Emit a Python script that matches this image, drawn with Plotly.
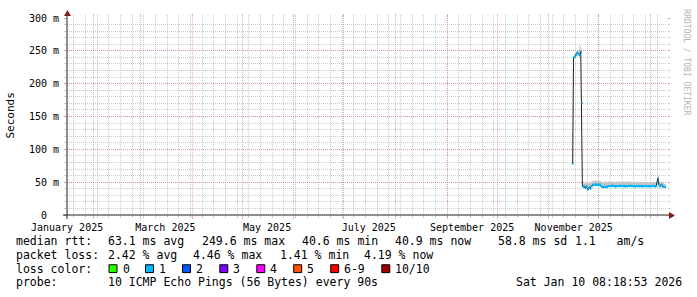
import plotly.graph_objects as go
import pandas as pd

# ---------------- data ----------------
times = [
    "2025-11-15 10:00", "2025-11-15 22:00", "2025-11-16 12:00", "2025-11-17 06:00",
    "2025-11-18 00:00", "2025-11-18 18:00", "2025-11-19 12:00", "2025-11-20 06:00",
    "2025-11-20 18:00", "2025-11-21 06:00", "2025-11-22 00:00", "2025-11-22 18:00",
    "2025-11-23 12:00", "2025-11-24 06:00", "2025-11-25 00:00", "2025-11-25 18:00",
    "2025-11-26 12:00", "2025-11-27 12:00", "2025-11-28 12:00", "2025-11-29 12:00",
    "2025-11-30 12:00", "2025-12-01 12:00", "2025-12-02 12:00", "2025-12-03 12:00",
    "2025-12-04 12:00", "2025-12-05 12:00", "2025-12-06 12:00", "2025-12-07 12:00",
    "2025-12-08 12:00", "2025-12-09 12:00", "2025-12-10 12:00", "2025-12-11 12:00",
    "2025-12-12 12:00", "2025-12-13 12:00", "2025-12-14 12:00", "2025-12-15 12:00",
    "2025-12-16 12:00", "2025-12-17 12:00", "2025-12-18 12:00", "2025-12-19 12:00",
    "2025-12-20 12:00", "2025-12-21 12:00", "2025-12-22 12:00", "2025-12-23 12:00",
    "2025-12-24 12:00", "2025-12-25 12:00", "2025-12-26 12:00", "2025-12-27 12:00",
    "2025-12-28 12:00", "2025-12-29 12:00", "2025-12-30 12:00", "2025-12-31 12:00",
    "2026-01-01 12:00", "2026-01-02 12:00", "2026-01-03 12:00", "2026-01-04 12:00",
    "2026-01-05 00:00", "2026-01-05 12:00", "2026-01-06 00:00", "2026-01-06 12:00",
    "2026-01-07 12:00", "2026-01-08 12:00", "2026-01-09 12:00", "2026-01-10 08:00",
]
median_ms = [
    78, 240, 241, 244,
    247, 245, 243, 249,
    171, 43, 44, 41,
    44, 39, 42, 40,
    44, 46, 46.5, 46,
    46.5, 46, 43, 42.5,
    43, 42.5, 44, 44,
    44.5, 44, 43.5, 44,
    44, 44.5, 44, 44,
    43.5, 44, 44, 44.5,
    44, 44, 43.5, 44,
    44, 44, 43.5, 44,
    44, 44, 43.5, 44,
    44, 44, 43.5, 44,
    50, 56, 47, 44,
    46, 43, 42.5, 42,
]
smoke_min_ms = [
    77, 238, 239, 241,
    243, 242, 240, 246,
    169, 42, 42, 40,
    42, 38, 40, 38,
    42, 44, 44, 44,
    44, 44, 42, 41,
    42, 41, 43, 43,
    43, 43, 42, 43,
    43, 43, 43, 43,
    42, 43, 43, 43,
    43, 43, 42, 43,
    43, 43, 42, 43,
    43, 43, 42, 43,
    43, 43, 42, 43,
    45, 48, 43, 42,
    43, 41, 41, 41,
]
smoke_max_ms = [
    80, 243, 246, 249,
    250, 251, 258, 253,
    173, 47, 49, 48,
    50, 48, 50, 49,
    51, 52, 52, 52,
    52.5, 52, 50, 50,
    51, 50, 51, 50.5,
    51, 50.5, 50, 51,
    50.5, 51, 50.5, 51,
    50, 50.5, 51, 50.5,
    50, 50.5, 50, 50.5,
    50, 50.5, 50, 50,
    50.5, 50, 50, 50.5,
    50, 50.5, 50, 51,
    55, 60, 52, 50,
    50, 48, 47, 46,
]

y_tick_vals = [0, 50, 100, 150, 200, 250, 300]
y_tick_text = ["0\u00a0\u00a0", "50 m", "100 m", "150 m", "200 m", "250 m", "300 m"]
x_label_months = ["2025-01-01", "2025-03-01", "2025-05-01", "2025-07-01", "2025-09-01", "2025-11-01"]
x_label_text = ["January 2025", "March 2025", "May 2025", "July 2025", "September 2025", "November 2025"]

legend_rtt = ["median rtt:", "63.1 ms avg", "249.6 ms max", "40.6 ms min", "40.9 ms now", "58.8 ms sd", "1.1   am/s"]
legend_loss = ["packet loss:", "2.42 % avg", "4.46 % max", "1.41 % min", "4.19 % now"]
loss_labels = ["0", "1", "2", "3", "4", "5", "6-9", "10/10"]
probe_text = ["probe:", "10 ICMP Echo Pings (56 Bytes) every 90s"]
stamp_text = "Sat Jan 10 08:18:53 2026"

# ---------------- styles / layout ----------------
loss_colors = ["#26ff00", "#00b8ff", "#0059ff", "#7e00ff", "#ff00ff", "#ff5500", "#ff0000", "#a10000"]
FONT = "DejaVu Sans Mono"
FS = 11.5
AFS = 10
L, T, W, H = 67, 15, 600, 200
FIG_W, FIG_H = 697, 297
x_start, x_end = "2025-01-16 00:00", "2026-01-11 00:00"


def px(x):
    return (x - L) / W


def py(y):
    return (T + H - y) / H


month_starts = pd.date_range("2025-02-01", "2026-01-01", freq="MS")
mondays = pd.date_range("2025-01-20", "2026-01-10", freq="7D")
label_pos = [pd.Timestamp(m) + pd.Timedelta(days=15, hours=1) for m in x_label_months]

t = pd.to_datetime(times)
band = 1.8
med_lo = [m - band for m in median_ms]
med_hi = [m + band for m in median_ms]

fig = go.Figure()
# smoke
fig.add_trace(go.Scatter(x=t, y=smoke_min_ms, mode="lines", line=dict(width=0, shape="hv"),
                         showlegend=False, hoverinfo="skip"))
fig.add_trace(go.Scatter(x=t, y=smoke_max_ms, mode="lines", line=dict(width=0, shape="hv"),
                         fill="tonexty", fillcolor="#c4c4c4", showlegend=False, hoverinfo="skip"))
# dark median line
fig.add_trace(go.Scatter(x=t, y=median_ms, mode="lines", line=dict(width=1, color="#202020"),
                         showlegend=False, hoverinfo="skip"))
# median coloured by loss (1/10 -> colour index 1)
fig.add_trace(go.Scatter(x=t, y=med_lo, mode="lines", line=dict(width=0, shape="hv"),
                         showlegend=False, hoverinfo="skip"))
fig.add_trace(go.Scatter(x=t, y=med_hi, mode="lines", line=dict(width=0, shape="hv"),
                         fill="tonexty", fillcolor=loss_colors[1], showlegend=False, hoverinfo="skip"))
# dummy trace for label axis
fig.add_trace(go.Scatter(x=label_pos, y=[None] * len(label_pos), xaxis="x2", mode="lines",
                         showlegend=False, hoverinfo="skip"))

grid_minor = "rgba(143,143,143,0.45)"
grid_major = "rgba(222,79,79,0.45)"

fig.update_layout(
    width=FIG_W, height=FIG_H,
    margin=dict(l=L, r=FIG_W - L - W, t=T, b=FIG_H - T - H, pad=0),
    paper_bgcolor="white", plot_bgcolor="white",
    font=dict(family=FONT, size=FS, color="black"),
    xaxis=dict(
        type="date", range=[x_start, x_end], tickmode="array", tickvals=month_starts,
        showticklabels=False, showgrid=True, gridcolor=grid_major, griddash="1px,1px", gridwidth=1,
        ticks="outside", ticklen=3, tickcolor=grid_major, mirror="ticks", showline=False, zeroline=False,
        minor=dict(tickmode="array", tickvals=mondays, showgrid=True, gridcolor=grid_minor,
                   griddash="1px,1px", ticks="outside", ticklen=2, tickcolor=grid_minor),
    ),
    xaxis2=dict(
        type="date", range=[x_start, x_end], overlaying="x", anchor="y", side="bottom",
        tickmode="array", tickvals=label_pos, ticktext=x_label_text, showgrid=False,
        ticks="", showline=False, zeroline=False, ticklabelstandoff=5,
        tickfont=dict(family=FONT, size=AFS, color="black"),
    ),
    yaxis=dict(
        range=[0, 300], tickmode="array", tickvals=y_tick_vals, ticktext=y_tick_text,
        showgrid=True, gridcolor=grid_major, griddash="1px,1px", gridwidth=1,
        ticks="outside", ticklen=2, tickcolor=grid_major, mirror="ticks", showline=False, zeroline=False,
        ticklabelstandoff=3, tickfont=dict(family=FONT, size=AFS, color="black"),
        minor=dict(dtick=10, tick0=0, showgrid=True, gridcolor=grid_minor, griddash="1px,1px",
                   ticks="outside", ticklen=2, tickcolor=grid_minor),
    ),
)

shapes = []
# axes lines
shapes.append(dict(type="line", xref="paper", yref="paper", x0=px(63), x1=px(671), y0=py(215), y1=py(215),
                   line=dict(color="#1f1f1f", width=1)))
shapes.append(dict(type="line", xref="paper", yref="paper", x0=px(67), x1=px(67), y0=py(219), y1=py(11),
                   line=dict(color="#1f1f1f", width=1)))
# arrows
arrow_col = "#801f1f"
shapes.append(dict(type="path", xref="paper", yref="paper",
                   path=f"M {px(669)},{py(212)} L {px(669)},{py(219)} L {px(675)},{py(215.5)} Z",
                   fillcolor=arrow_col, line=dict(color=arrow_col, width=0)))
shapes.append(dict(type="path", xref="paper", yref="paper",
                   path=f"M {px(64)},{py(13)} L {px(71)},{py(13)} L {px(67.5)},{py(7)} Z",
                   fillcolor=arrow_col, line=dict(color=arrow_col, width=0)))

annotations = []


def text_at(x, y, s, anchor="left", size=FS, color="black", angle=0):
    annotations.append(dict(xref="paper", yref="paper", x=px(x), y=py(y), text=s, showarrow=False,
                            xanchor=anchor, yanchor="middle", borderpad=0, borderwidth=0,
                            textangle=angle, font=dict(family=FONT, size=size, color=color)))


rtt_x = [16, 108, 201.8, 301.8, 395, 497.8, 575]
for xx, s in zip(rtt_x, legend_rtt):
    text_at(xx, 241.5, s.replace(" ", "\u00a0"))
loss_x = [16, 107.7, 192.7, 279.5, 363.6]
for xx, s in zip(loss_x, legend_loss):
    text_at(xx, 255.5, s.replace(" ", "\u00a0"))
text_at(16, 269.5, "loss\u00a0color:")
box_x = [109, 145.5, 182.5, 219.8, 256.8, 293.7, 330.7, 381.8]
for bx, lab, col in zip(box_x, loss_labels, loss_colors):
    shapes.append(dict(type="rect", xref="paper", yref="paper", x0=px(bx), x1=px(bx + 8),
                       y0=py(273.5), y1=py(265.5), fillcolor=col, line=dict(color="black", width=1)))
    text_at(bx + 13.5, 269.5, lab)
probe_x = [16, 107.7]
for xx, s in zip(probe_x, probe_text):
    text_at(xx, 283.5, s.replace(" ", "\u00a0"))
text_at(682, 283.5, stamp_text.replace(" ", "\u00a0"), anchor="right")

# axis title
text_at(11, 114, "Seconds", anchor="center", size=11, angle=-90)
# watermark
text_at(687, 60, "RRDTOOL\u00a0/\u00a0TOBI\u00a0OETIKER", anchor="center", size=8, color="#b4b4b4", angle=90)

fig.update_layout(shapes=shapes, annotations=annotations)
fig.write_html("out.html")
